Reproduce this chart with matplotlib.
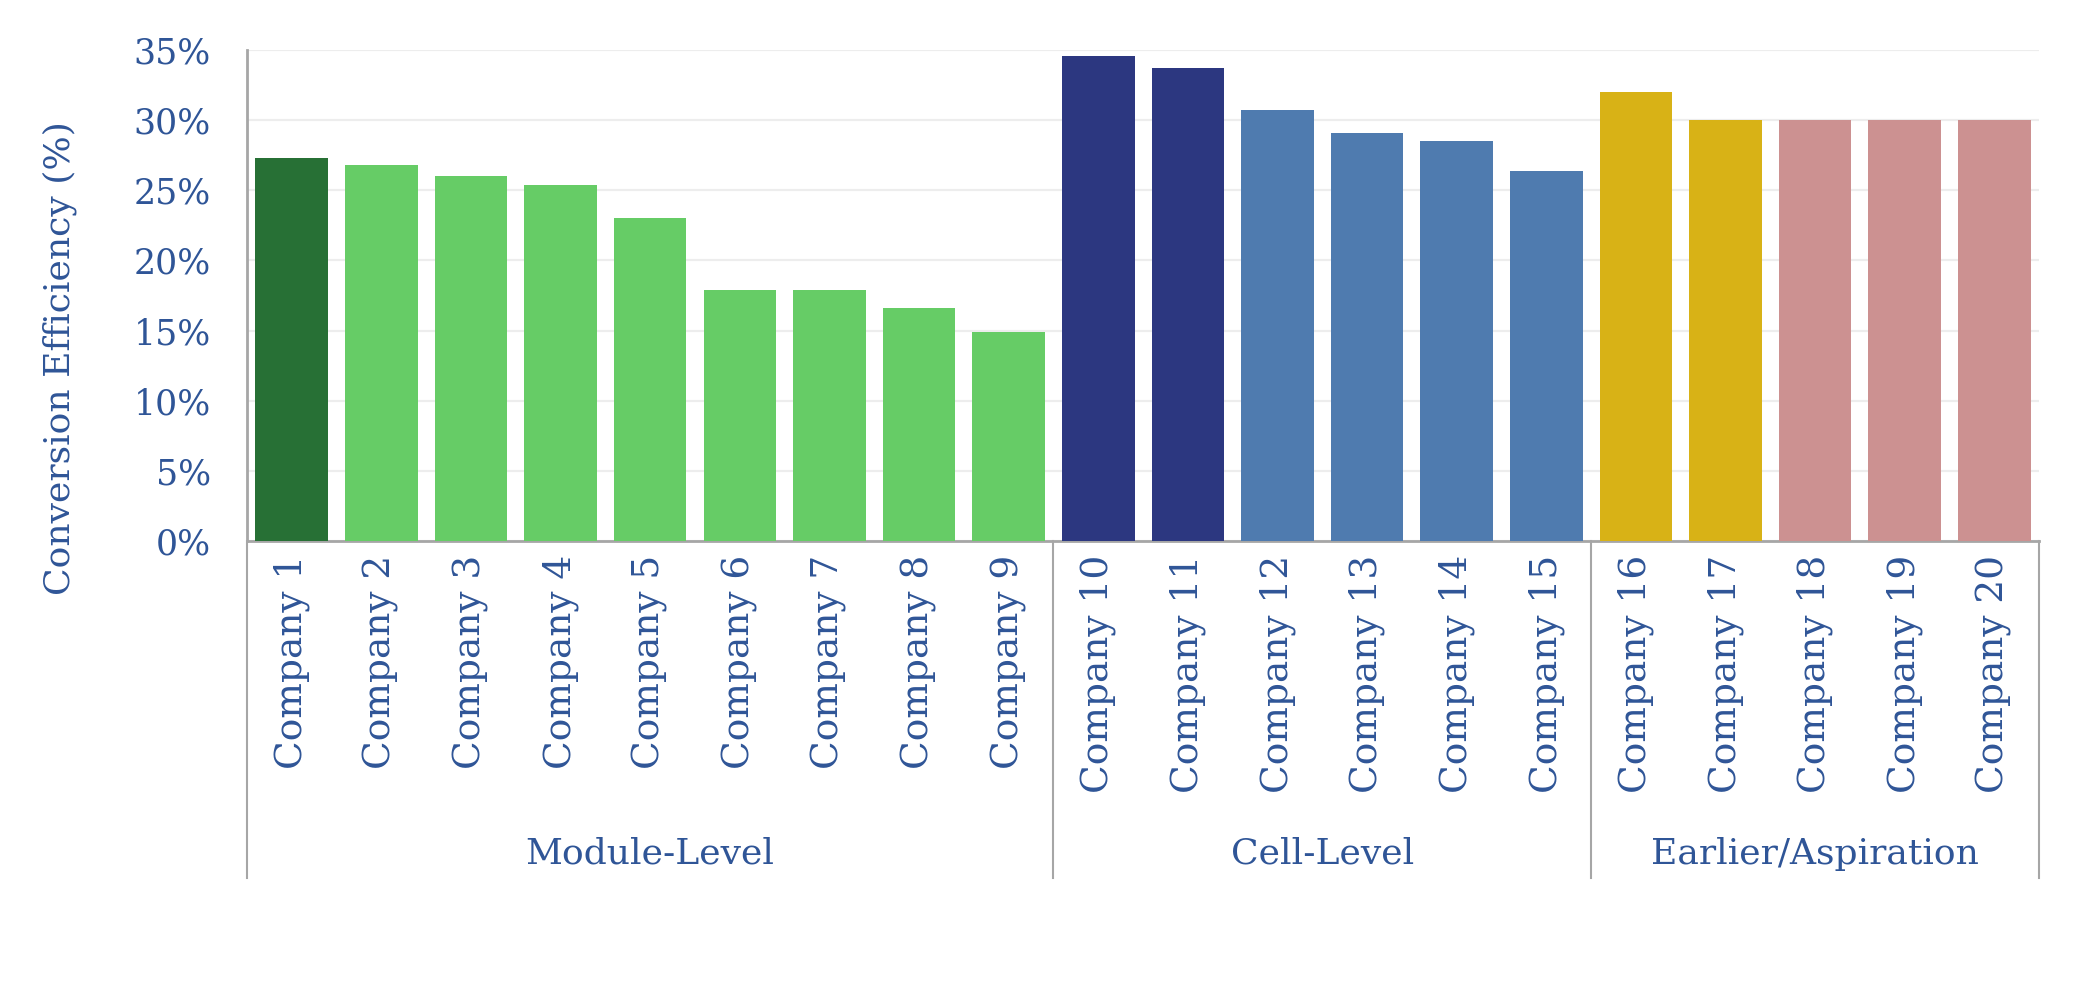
import matplotlib
matplotlib.use("Agg")
import matplotlib.pyplot as plt
import matplotlib.transforms as mtransforms
from matplotlib.ticker import PercentFormatter

companies = ["Company %d" % i for i in range(1, 21)]
efficiency = [27.3, 26.8, 26.0, 25.4, 23.0, 17.9, 17.9, 16.6, 14.9,
              34.6, 33.7, 30.75, 29.1, 28.5, 26.4,
              32.0, 30.0, 30.0, 30.0, 30.0]
bar_colors = ["#277035"] + ["#66CC66"] * 8 + ["#2C3780"] * 2 + ["#4F7BAF"] * 4 \
    + ["#D8B216"] * 2 + ["#CC9191"] * 3
groups = ["Module-Level", "Cell-Level", "Earlier/Aspiration"]
group_sizes = [9, 6, 5]

txt = "#2F5597"
axis_grey = "#A6A6A6"
plt.rcParams["font.family"] = ["DejaVu Serif"]

fig = plt.figure(figsize=(20.79, 9.81), dpi=100)
ax = fig.add_axes([0.1188, 0.4485, 0.862, 0.5005])

x = list(range(len(companies)))
ax.bar(x, efficiency, width=0.81, color=bar_colors, zorder=3)

ax.set_xlim(-0.5, len(companies) - 0.5)
ax.set_ylim(0, 35)
ax.set_yticks(range(0, 36, 5))
ax.yaxis.set_major_formatter(PercentFormatter(decimals=0))
ax.grid(axis="y", color="#EDEDED", linewidth=1.6, zorder=0)
ax.set_axisbelow(True)

ax.set_xticks(x)
ax.set_xticklabels(companies, rotation=90, fontsize=27, color=txt)
ax.tick_params(axis="x", length=0, pad=10)
ax.tick_params(axis="y", length=0, pad=26, labelsize=25, labelcolor=txt)
ax.set_ylabel("Conversion Efficiency (%)", fontsize=26, color=txt)
ax.yaxis.set_label_coords(-0.095, 0.373)

for s in ["top", "right"]:
    ax.spines[s].set_visible(False)
for s in ["left", "bottom"]:
    ax.spines[s].set_color(axis_grey)
    ax.spines[s].set_linewidth(2)

# category group separators and labels below the axis
trans = mtransforms.blended_transform_factory(ax.transData, ax.transAxes)
bottom = -0.686
edges = [-0.5]
for n in group_sizes:
    edges.append(edges[-1] + n)
for e in edges:
    ax.plot([e, e], [0, bottom], transform=trans, color=axis_grey,
            linewidth=1.5, clip_on=False)
for i, g in enumerate(groups):
    mid = (edges[i] + edges[i + 1]) / 2
    ax.text(mid, -0.637, g, transform=trans, ha="center", va="center",
            fontsize=26, color=txt)

fig.savefig("out.png", dpi=100)
